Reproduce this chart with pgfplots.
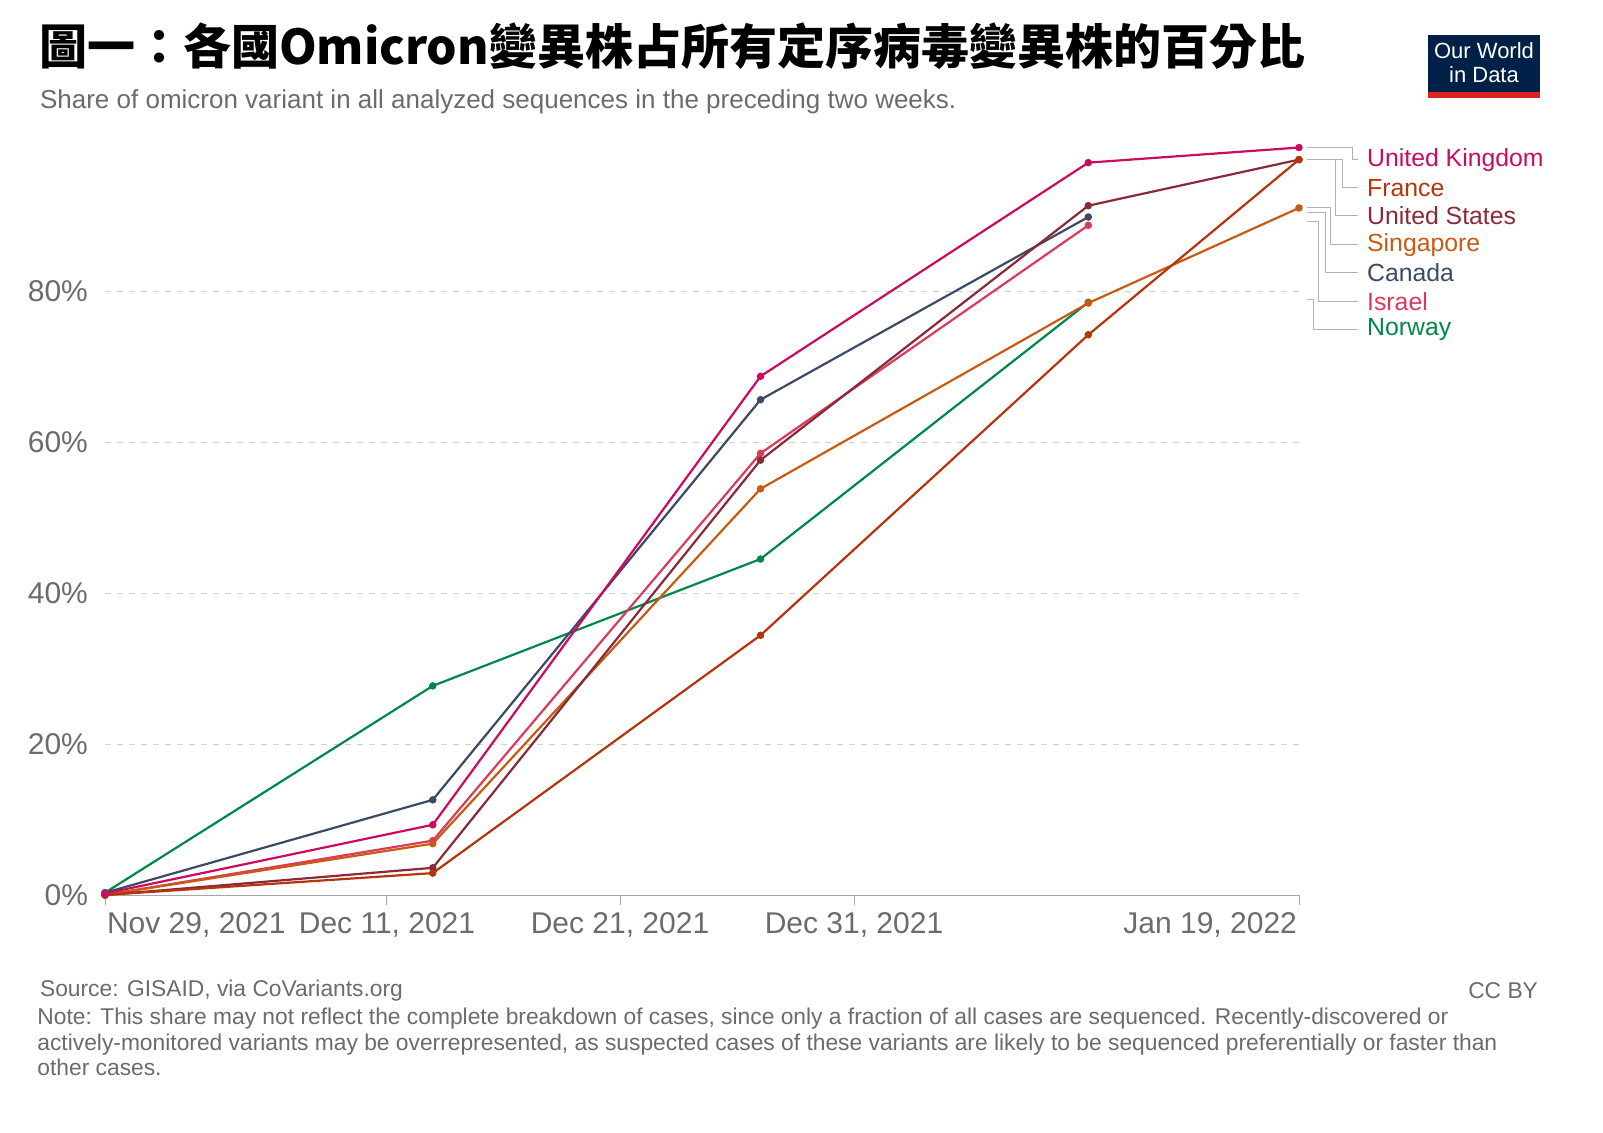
\documentclass[border=0pt]{standalone}
\usepackage{pgfplots}
\pgfplotsset{compat=1.18}
\usepackage{fontspec}
\setmainfont{Liberation Sans}
\newfontfamily\cjk{Noto Sans CJK TC}
\definecolor{cUK}{HTML}{CE0A60}
\definecolor{cFR}{HTML}{B5340C}
\definecolor{cUS}{HTML}{8A2A38}
\definecolor{cSG}{HTML}{C85A12}
\definecolor{cCA}{HTML}{3B4B65}
\definecolor{cIL}{HTML}{DC3A5A}
\definecolor{cNO}{HTML}{00874A}
\definecolor{txt}{HTML}{6B6B6B}
\definecolor{owid}{HTML}{002147}
\definecolor{owidred}{HTML}{DC2323}
\begin{document}
\begin{tikzpicture}
\begin{scope}[x=0.5pt,y=-0.5pt]
\node[anchor=west,font=\cjk\bfseries\fontsize{24}{27}\selectfont] at (32,46) {圖一：各國Omicron變異株占所有定序病毒變異株的百分比};
\node[anchor=west,text=txt,font=\fontsize{13}{15}\selectfont] at (33,102) {Share of omicron variant in all analyzed sequences in the preceding two weeks.};
\fill[owid] (1428,35) rectangle (1540,98);
\fill[owidred] (1428,92) rectangle (1540,98);
\node[text=white,align=center,font=\fontsize{11}{12}\selectfont] at (1484,63) {Our World\\in Data};
\begin{scope}[font=\fontsize{15}{17}\selectfont,text=txt]
\node[anchor=west] at (100,925) {Nov 29, 2021};
\node at (387,925) {Dec 11, 2021};
\node at (620,925) {Dec 21, 2021};
\node at (854,925) {Dec 31, 2021};
\node[anchor=east] at (1304,925) {Jan 19, 2022};
\end{scope}
\begin{scope}[draw=gray!60,line width=0.5pt,font=\fontsize{12.4}{14}\selectfont]
\draw (1307,148)--(1352,148)--(1352,160)--(1358,160); \node[anchor=west,text=cUK] at (1360,160){United Kingdom};
\draw (1307,160)--(1342,160)--(1342,188)--(1358,188); \node[anchor=west,text=cFR] at (1360,188){France};
\draw (1307,160)--(1335,160)--(1335,216)--(1358,216); \node[anchor=west,text=cUS] at (1360,216){United States};
\draw (1307,208)--(1330,208)--(1330,245)--(1358,245); \node[anchor=west,text=cSG] at (1360,245){Singapore};
\draw (1307,213)--(1325,213)--(1325,273)--(1358,273); \node[anchor=west,text=cCA] at (1360,273){Canada};
\draw (1307,222)--(1318,222)--(1318,302)--(1358,302); \node[anchor=west,text=cIL] at (1360,302){Israel};
\draw (1307,300)--(1313,300)--(1313,330)--(1358,330); \node[anchor=west,text=cNO] at (1360,330){Norway};
\end{scope}
\begin{scope}[text=txt,font=\fontsize{11.4}{12.6}\selectfont]
\node[anchor=west] at (33,991) {Source: GISAID, via CoVariants.org};
\node[anchor=east] at (1545,991) {CC BY};
\node[anchor=north west,align=left,inner sep=0pt] at (37,1008) {Note: This share may not reflect the complete breakdown of cases, since only a fraction of all cases are sequenced. Recently-discovered or\\actively-monitored variants may be overrepresented, as suspected cases of these variants are likely to be sequenced preferentially or faster than\\other cases.};
\end{scope}
\end{scope}
\begin{axis}[at={(52.5pt,-447.5pt)},anchor=origin,scale only axis,width=597pt,height=377.5pt,
 xmin=0,xmax=51,ymin=0,ymax=100,clip=false,
 axis x line=bottom, axis y line=left, x axis line style={draw=gray!70,-},
 y axis line style={draw=none}, ytick style={draw=none},
 xtick={0,12,22,32,51}, xticklabels={}, xtick style={draw=gray!70}, major tick length=5pt,
 tick align=outside,
 ytick={0,20,40,60,80}, yticklabels={0\%,20\%,40\%,60\%,80\%},
 yticklabel style={text=txt,font=\fontsize{15}{17}\selectfont},
 ymajorgrids, grid style={dashed,gray!35},
 every axis plot/.append style={line width=1.1pt,mark=*,mark size=1.3pt}]
\addplot[cNO,mark options={fill=cNO}] coordinates {(0,0.3)(14,27.7)(28,44.5)(42,78.5)};
\addplot[cIL,mark options={fill=cIL}] coordinates {(0,0)(14,7.2)(28,58.5)(42,88.7)};
\addplot[cCA,mark options={fill=cCA}] coordinates {(0,0.3)(14,12.6)(28,65.6)(42,89.8)};
\addplot[cSG,mark options={fill=cSG}] coordinates {(0,0)(14,6.8)(28,53.8)(42,78.4)(51,91)};
\addplot[cUS,mark options={fill=cUS}] coordinates {(0,0)(14,3.6)(28,57.6)(42,91.3)(51,97.4)};
\addplot[cFR,mark options={fill=cFR}] coordinates {(0,0)(14,2.9)(28,34.4)(42,74.2)(51,97.4)};
\addplot[cUK,mark options={fill=cUK}] coordinates {(0,0.2)(14,9.3)(28,68.7)(42,97)(51,99)};
\end{axis}
\pgfresetboundingbox
\path[use as bounding box] (0,0) rectangle (801.5pt,-566.5pt);
\end{tikzpicture}
\end{document}
